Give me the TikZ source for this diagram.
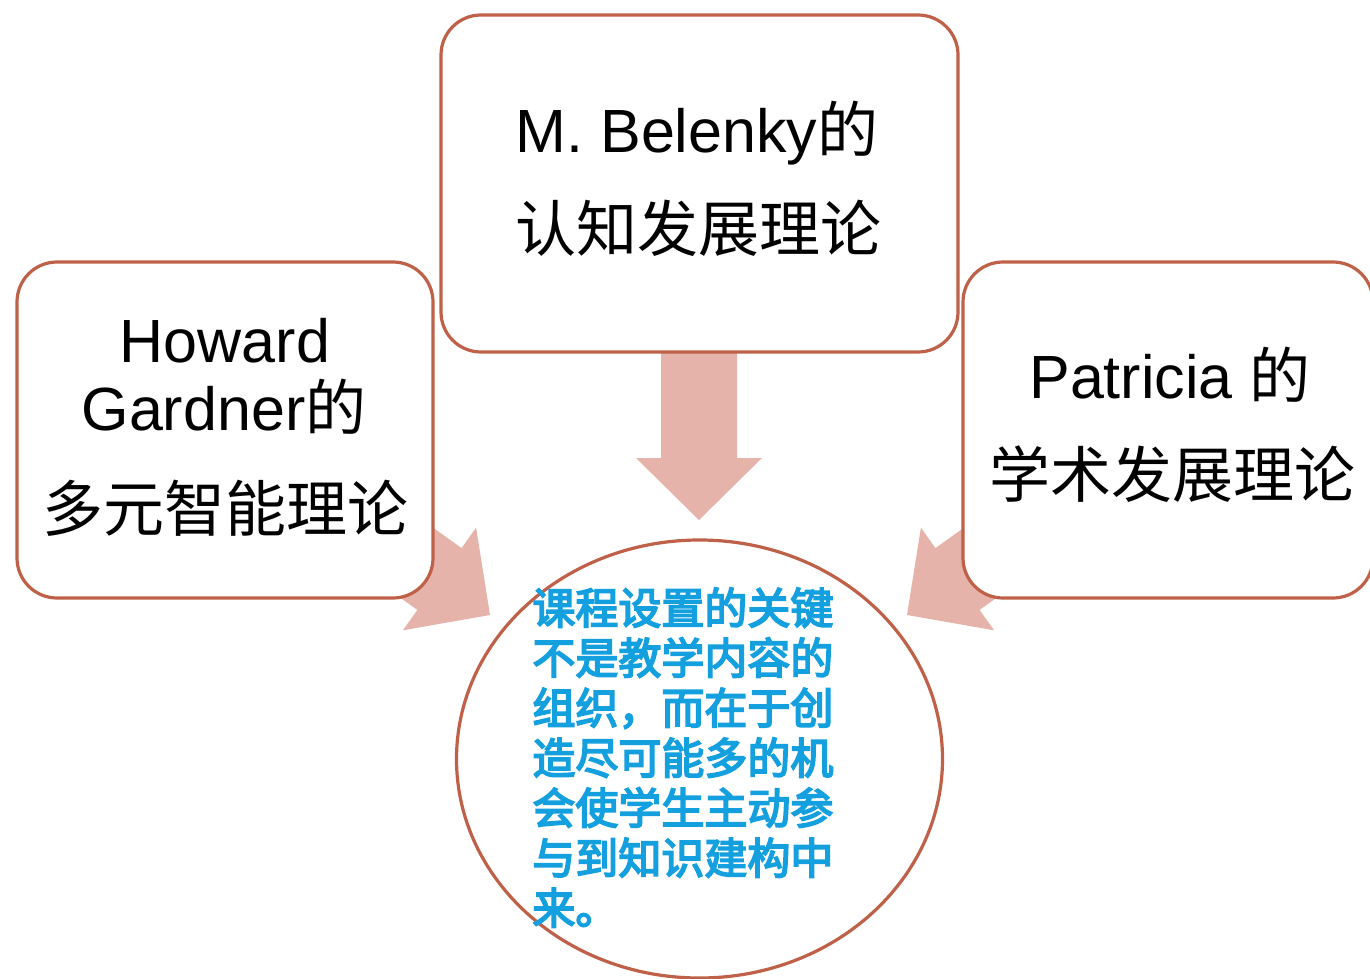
\documentclass[tikz,border=0pt]{standalone}
\usepackage{fontspec}
\setmainfont{Liberation Sans}
\newfontfamily\cjk{Noto Sans CJK SC}
\newfontfamily\cjkmid{Noto Sans CJK SC}[FakeBold=4]
\usetikzlibrary{shapes.geometric}
\definecolor{edgecol}{RGB}{191,96,72}
\definecolor{arrowcol}{RGB}{229,179,169}
\definecolor{bluetext}{RGB}{20,160,222}
\tikzset{
  theorybox/.style={draw=edgecol, line width=1.6pt, fill=white, rounded corners=20pt, inner sep=0pt},
  boxtext/.style={anchor=base, inner sep=0pt, font=\fontsize{30.5}{34}\selectfont},
  blockarrow/.style={fill=arrowcol, draw=none},
  coretext/.style={anchor=base west, inner sep=0pt, text=bluetext, font=\fontsize{21.5}{25}\selectfont\cjkmid}
}
\begin{document}
\begin{tikzpicture}[x=0.5pt, y=-0.5pt]
\clip (0,0) rectangle (1370,979);
\fill[white] (0,0) rectangle (1370,979);
% block arrows
\fill[blockarrow] (661,300) -- (737,300) -- (737,458) -- (762,458) -- (699,520) -- (636,458) -- (661,458) -- cycle;
\fill[blockarrow] (339.5,460.9) -- (461.6,548.1) -- (476.1,527.7) -- (490,615) -- (402.9,630.3) -- (417.4,609.9) -- (295.3,522.7) -- cycle;
\fill[blockarrow] (1057.5,460.9) -- (935.4,548.1) -- (920.9,527.7) -- (907,615) -- (994.1,630.3) -- (979.6,609.9) -- (1101.7,522.7) -- cycle;
% boxes
\node[theorybox, minimum width=208pt, minimum height=168pt] (left) at (225,430) {};
\node[theorybox, minimum width=258.5pt, minimum height=168.5pt] (top) at (699.5,183.5) {};
\node[theorybox, minimum width=205pt, minimum height=168pt] (right) at (1168,430) {};
\node[ellipse, draw=edgecol, line width=1.6pt, fill=white, inner sep=0pt, minimum width=243pt, minimum height=219pt] (core) at (699.5,759) {};
% box texts
\node[boxtext] (t1) at (697,152) {M. Belenky{\cjk 的}};
\node[boxtext] (t2) at (698,251) {\cjk 认知发展理论};
\node[boxtext] (l1) at (225,362) {Howard};
\node[boxtext] (l2) at (224,430) {Gardner{\cjk 的}};
\node[boxtext] (l3) at (225,531) {\cjk 多元智能理论};
\node[boxtext] (r1) at (1170,398) {Patricia {\cjk 的}};
\node[boxtext] (r2) at (1172,497) {\cjk 学术发展理论};
% core text
\foreach \t [count=\i] in {课程设置的关键,不是教学内容的,组织，而在于创,造尽可能多的机,会使学生主动参,与到知识建构中,来。}
  \node[coretext] (c\i) at (532,574+50*\i) {\t};
\end{tikzpicture}
\end{document}
